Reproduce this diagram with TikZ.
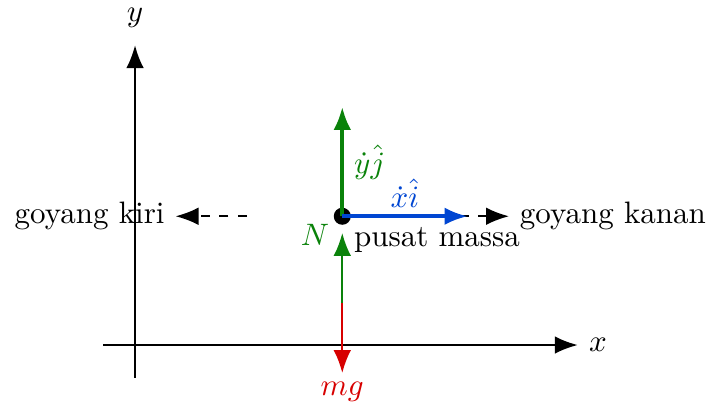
\documentclass[tikz,border=0pt]{standalone}
\usepackage{amsmath,amssymb}
\usetikzlibrary{arrows.meta,positioning}

\definecolor{vgreen}{RGB}{10,130,10}
\definecolor{vblue}{RGB}{0,70,210}
\definecolor{vred}{RGB}{215,0,0}

\begin{document}
\begin{tikzpicture}[
    axis/.style={
        -{Latex[length=2.6mm,width=2mm]},
        line width=0.7pt
    },
    vec/.style={
        -{Latex[length=2.6mm,width=2mm]},
        line width=1.2pt
    },
    force/.style={
        -{Latex[length=2.6mm,width=2mm]},
        line width=0.6pt
    },
    sway/.style={
        -{Latex[length=2.6mm,width=2mm]},
        line width=0.6pt,
        dashed
    },
    massdot/.style={
        circle,
        fill=black,
        inner sep=0pt,
        minimum size=5.5pt
    }
]

\useasboundingbox (-1.531,-0.692) rectangle (6.508,3.912);

% ------------------------------------------------------------------
% Axes
% ------------------------------------------------------------------

\coordinate (xstart) at (-0.36,0);
\coordinate (ystart) at (0,-0.37);

\node (xlabel) at (5.25,0) {$x$};
\node (ylabel) at (0,3.71) {$y$};

\coordinate (xend) at (5.02,0);
\coordinate (yend) at (0,3.40);

\draw[axis] (xstart) -- (xend);
\draw[axis] (ystart) -- (yend);

% ------------------------------------------------------------------
% Centre of mass and velocity components
% ------------------------------------------------------------------

\node[massdot] (cm) at (2.35,1.46) {};

\coordinate (ytip) at (2.35,2.70);
\coordinate (xtip) at (3.77,1.46);

\node[text=vgreen] (ydot) at (2.66,2.07) {$\dot{y}\hat{j}$};
\node[text=vblue] (xdot) at (3.06,1.72) {$\dot{x}\hat{i}$};

\node[anchor=west] (pusat) at (2.36,1.19) {pusat massa};

% ------------------------------------------------------------------
% Sway directions
% ------------------------------------------------------------------

\node[anchor=west] (kanan) at (4.24,1.46) {goyang kanan};
\node[anchor=east] (kiri) at (0.46,1.46) {goyang kiri};

\coordinate (kananstart) at (3.68,1.46);
\coordinate (kiristart) at (1.27,1.46);

\draw[sway] (kananstart) -- (kanan.west);
\draw[sway] (kiristart) -- (kiri.east);

\draw[vec, vgreen] (cm.center) -- (ytip);
\draw[vec, vblue] (cm.center) -- (xtip);

% ------------------------------------------------------------------
% Forces
% ------------------------------------------------------------------

\coordinate (forcebase) at (2.35,0.476);
\coordinate (ntip) at (2.35,1.27);
\coordinate (mgtip) at (2.35,-0.317);

\node[text=vgreen] (nlabel) at (2.04,1.25) {$N$};
\node[text=vred] (mglabel) at (2.35,-0.53) {$mg$};

\draw[force, vgreen] (forcebase) -- (ntip);
\draw[force, vred] (forcebase) -- (mgtip);

\end{tikzpicture}
\end{document}
